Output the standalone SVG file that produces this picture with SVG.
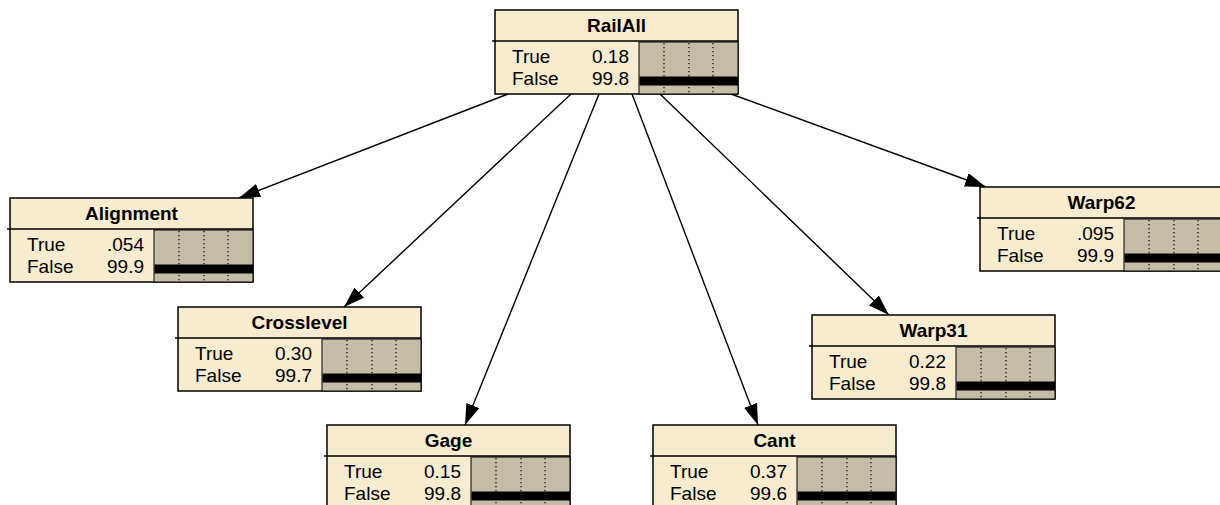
<svg xmlns="http://www.w3.org/2000/svg" width="1220" height="505" viewBox="0 0 1220 505">
<style>
.box{fill:#F7ECCF;stroke:#000;stroke-width:1.5}
.sep{stroke:#000;stroke-width:1.5}
.bar{fill:#C6BDA8;stroke:#000;stroke-width:1}
.blk{fill:#000}
.dot{stroke:#000;stroke-width:1.2;stroke-dasharray:1.2 2.8}
.t{font-family:"Liberation Sans",Arial,sans-serif;font-size:19px;fill:#000}
.h{font-family:"Liberation Sans",Arial,sans-serif;font-size:19px;font-weight:bold;fill:#000;text-anchor:middle}
.v{text-anchor:end}
.e{stroke:#000;stroke-width:1.4;fill:none;marker-end:url(#ah)}
</style>
<defs>
<marker id="ah" markerUnits="userSpaceOnUse" markerWidth="24" markerHeight="16" refX="21" refY="7" orient="auto">
<path d="M0,0 L21,7 L0,14 Z" fill="#000"/>
</marker>
<g id="nodebase">
<rect class="box" x="0" y="0" width="243" height="84"/>
<line class="sep" x1="-3" y1="31" x2="243" y2="31"/>
<rect class="bar" x="144" y="32" width="99" height="52"/>
<line class="dot" x1="169" y1="33" x2="169" y2="84"/>
<line class="dot" x1="194" y1="33" x2="194" y2="84"/>
<line class="dot" x1="218" y1="33" x2="218" y2="84"/>
<rect class="blk" x="144.5" y="66.5" width="98.5" height="9"/>
<text class="t" x="17" y="53">True</text>
<text class="t" x="17" y="75">False</text>
</g>
</defs>
<g id="connectors">
<line class="e" x1="508" y1="94" x2="239" y2="198"/>
<line class="e" x1="571" y1="94" x2="344" y2="307"/>
<line class="e" x1="599" y1="94" x2="465" y2="425"/>
<line class="e" x1="632" y1="94" x2="758" y2="425"/>
<line class="e" x1="660" y1="94" x2="889" y2="315"/>
<line class="e" x1="731" y1="94" x2="986" y2="187"/>
</g>
<g id="RailAll" transform="translate(495,10)">
<use href="#nodebase"/>
<text class="h" x="121.5" y="22">RailAll</text>
<text class="t v" x="134" y="53">0.18</text>
<text class="t v" x="134" y="75">99.8</text>
</g>
<g id="Alignment" transform="translate(10,198)">
<use href="#nodebase"/>
<text class="h" x="121.5" y="22">Alignment</text>
<text class="t v" x="134" y="53">.054</text>
<text class="t v" x="134" y="75">99.9</text>
</g>
<g id="Crosslevel" transform="translate(178,307)">
<use href="#nodebase"/>
<text class="h" x="121.5" y="22">Crosslevel</text>
<text class="t v" x="134" y="53">0.30</text>
<text class="t v" x="134" y="75">99.7</text>
</g>
<g id="Gage" transform="translate(327,425)">
<use href="#nodebase"/>
<text class="h" x="121.5" y="22">Gage</text>
<text class="t v" x="134" y="53">0.15</text>
<text class="t v" x="134" y="75">99.8</text>
</g>
<g id="Cant" transform="translate(653,425)">
<use href="#nodebase"/>
<text class="h" x="121.5" y="22">Cant</text>
<text class="t v" x="134" y="53">0.37</text>
<text class="t v" x="134" y="75">99.6</text>
</g>
<g id="Warp31" transform="translate(812,315)">
<use href="#nodebase"/>
<text class="h" x="121.5" y="22">Warp31</text>
<text class="t v" x="134" y="53">0.22</text>
<text class="t v" x="134" y="75">99.8</text>
</g>
<g id="Warp62" transform="translate(980,187)">
<use href="#nodebase"/>
<text class="h" x="121.5" y="22">Warp62</text>
<text class="t v" x="134" y="53">.095</text>
<text class="t v" x="134" y="75">99.9</text>
</g>
</svg>
